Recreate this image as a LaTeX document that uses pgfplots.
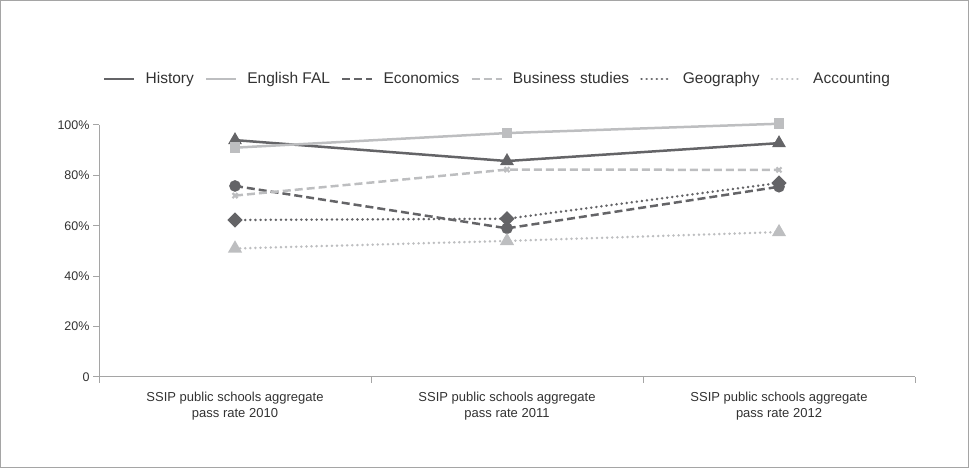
\documentclass[border=0pt]{standalone}
\usepackage{fontspec}
\setmainfont{Liberation Sans}
\usepackage{pgfplots}
\pgfplotsset{compat=1.18}
\definecolor{dk}{RGB}{100,100,103}
\definecolor{lt}{RGB}{189,190,192}
\definecolor{axc}{RGB}{165,165,165}
\definecolor{txt}{RGB}{50,50,50}
\begin{document}
\begin{tikzpicture}
\path[use as bounding box] (0,0) rectangle (969bp,468bp);
\draw[axc, line width=0.8bp] (0.5bp,0.5bp) rectangle (968.5bp,467.5bp);
\begin{axis}[
  at={(99bp,91bp)}, anchor=south west,
  scale only axis, width=816bp, height=252bp,
  xmin=-0.5, xmax=2.5, ymin=0, ymax=100,
  axis x line*=bottom, axis y line*=left,
  axis line style={draw=axc, line width=1bp},
  clip=false,
  xtick={0,1,2},
  xticklabels={{SSIP public schools aggregate\\pass rate 2010},{SSIP public schools aggregate\\pass rate 2011},{SSIP public schools aggregate\\pass rate 2012}},
  xticklabel style={align=center, font=\fontsize{13bp}{16bp}\selectfont, text=txt, yshift=-6bp},
  major x tick style={draw=none},
  minor xtick={-0.5,0.5,1.5,2.5},
  minor x tick style={draw=axc, line width=1bp},
  ytick={0,20,40,60,80,100},
  yticklabels={0,20\%,40\%,60\%,80\%,100\%},
  yticklabel style={font=\fontsize{12.5bp}{14bp}\selectfont, text=txt},
  y tick style={draw=axc, line width=1bp},
  tick align=outside,
  major tick length=6bp, minor tick length=6bp,
  legend columns=6,
  legend style={at={(0.4884,1.1825)}, anchor=center, draw=none, fill=none,
    font=\fontsize{15.5bp}{18bp}\selectfont, text=txt,
    /tikz/every even column/.append style={column sep=9bp},
    /tikz/every odd column/.append style={column sep=8bp}},
  legend image code/.code={\draw[#1] (0bp,0bp) -- (30bp,0bp);},
]
\addplot[dk, line width=2.5bp, mark=triangle*, mark size=5.5bp, mark options={solid}] coordinates {(0,94) (1,85.7) (2,92.8)};
\addlegendentry{History}
\addplot[lt, line width=2.5bp, mark=square*, mark size=4bp, mark options={solid}] coordinates {(0,91) (1,96.8) (2,100.5)};
\addlegendentry{English FAL}
\addplot[dk, line width=2.5bp, dash pattern=on 8bp off 4bp, mark=*, mark size=4.5bp, mark options={solid}] coordinates {(0,75.8) (1,59) (2,75.5)};
\addlegendentry{Economics}
\addplot[lt, line width=2.5bp, dash pattern=on 8bp off 4bp, mark=x, mark size=3.5bp, mark options={solid, line width=2.2bp}] coordinates {(0,72) (1,82.3) (2,82.2)};
\addlegendentry{Business studies}
\addplot[dk, line width=2.7bp, line cap=round, dash pattern=on 0.1bp off 5bp, mark=square*, mark size=4bp, mark options={solid, rotate=45}] coordinates {(0,62.3) (1,62.8) (2,77)};
\addlegendentry{Geography}
\addplot[lt, line width=2.7bp, line cap=round, dash pattern=on 0.1bp off 5bp, mark=triangle*, mark size=5.5bp, mark options={solid}] coordinates {(0,51) (1,54) (2,57.5)};
\addlegendentry{Accounting}
\end{axis}
\end{tikzpicture}
\end{document}
